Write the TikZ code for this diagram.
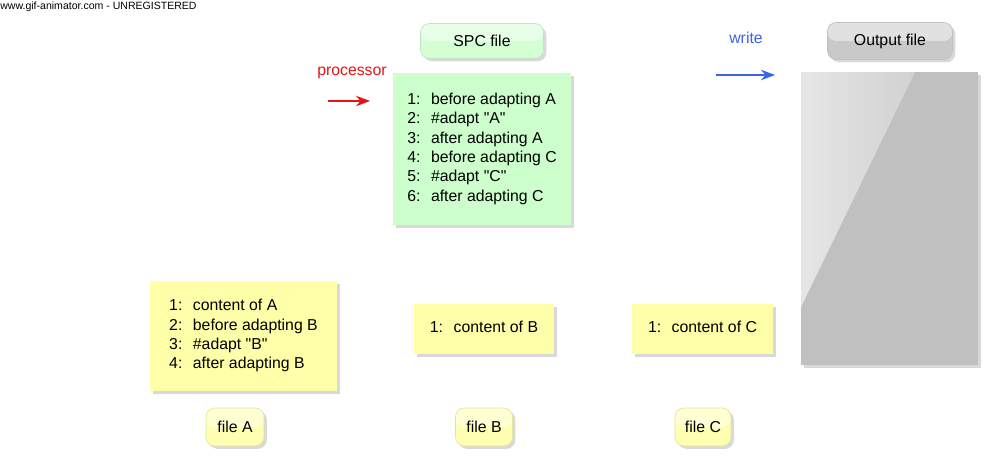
\documentclass[tikz,border=0pt]{standalone}
\usepackage{fontspec}
\setmainfont{Liberation Sans}
\usetikzlibrary{shadows,arrows.meta}

\definecolor{spcgreen}{RGB}{204,255,204}
\definecolor{fileyellow}{RGB}{255,255,170}
\definecolor{outgray}{RGB}{192,192,192}
\definecolor{procred}{RGB}{230,20,20}
\definecolor{writeblue}{RGB}{60,100,230}

\tikzset{
  every node/.style={font=\fontsize{9}{11}\selectfont},
  softshadow/.style={drop shadow={shadow xshift=1.6pt,shadow yshift=-1.6pt,opacity=0.3}},
  filebox/.style={inner sep=0pt,softshadow},
  tagbox/.style={inner sep=0pt,rounded corners=5pt,softshadow,
    path picture={\fill[white,opacity=0.45] (path picture bounding box.north west) rectangle (path picture bounding box.east);}},
  flow/.style={-{Stealth[length=8pt,width=6pt]},thick}
}

\newcommand{\listing}[1]{\begin{tabular}{@{}l@{\hspace{6pt}}l@{}}#1\end{tabular}}
\newcommand{\qt}{\textquotedbl}

\begin{document}
\begin{tikzpicture}[x=0.02cm,y=-0.02cm]
\useasboundingbox (0,0) rectangle (1000,466);

% watermark
\node[anchor=west,inner sep=0pt,font=\fontsize{6}{6.5}\selectfont] (mark) at (0,7) {www.gif-animator.com - UNREGISTERED};

% SPC file
\node[tagbox,fill=spcgreen!85!white,draw=spcgreen!80!black!60,minimum width=2.46cm,minimum height=0.7cm] (spclabel) at (482,41) {SPC file};
\node[filebox,fill=spcgreen,minimum width=3.56cm,minimum height=3.04cm] (spcbox) at (482,149) {\listing{
1: & before adapting A\\
2: & \#adapt \qt A\qt\\
3: & after adapting A\\
4: & before adapting C\\
5: & \#adapt \qt C\qt\\
6: & after adapting C}};

% processor arrow
\node[text=procred] (proc) at (352,73) {processor};
\coordinate (procstart) at (328,101);
\coordinate (procend) at (370,101);
\draw[flow,procred] (procstart) -- (procend);

% output file
\node[tagbox,fill=outgray!85!white,draw=outgray,minimum width=2.5cm,minimum height=0.74cm] (outlabel) at (890,41) {Output file};
\node[filebox,fill=outgray,minimum width=3.54cm,minimum height=5.86cm,
  path picture={\shade[left color=white!60!outgray,right color=outgray!90!white] (path picture bounding box.north west) -- ++(2.28cm,0) -- ++(-2.28cm,-4.7cm) -- cycle;}] (outbox) at (889.5,218.5) {};

% write arrow
\node[text=writeblue] (write) at (746,38) {write};
\coordinate (writestart) at (716,75);
\coordinate (writeend) at (775,75);
\draw[flow,writeblue] (writestart) -- (writeend);

% included files
\node[filebox,fill=fileyellow,minimum width=3.74cm,minimum height=2.2cm] (boxA) at (243.5,336) {\listing{
1: & content of A\\
2: & before adapting B\\
3: & \#adapt \qt B\qt\\
4: & after adapting B}};
\node[filebox,fill=fileyellow,minimum width=2.8cm,minimum height=1cm] (boxB) at (484,329) {\listing{1: & content of B}};
\node[filebox,fill=fileyellow,minimum width=2.82cm,minimum height=1cm] (boxC) at (702.5,329) {\listing{1: & content of C}};

\node[tagbox,fill=fileyellow!90!white,draw=fileyellow!90!black,minimum width=1.16cm,minimum height=0.76cm] (labelA) at (235,427) {file A};
\node[tagbox,fill=fileyellow!90!white,draw=fileyellow!90!black,minimum width=1.14cm,minimum height=0.76cm] (labelB) at (484,427) {file B};
\node[tagbox,fill=fileyellow!90!white,draw=fileyellow!90!black,minimum width=1.12cm,minimum height=0.76cm] (labelC) at (703,427) {file C};
\end{tikzpicture}
\end{document}
